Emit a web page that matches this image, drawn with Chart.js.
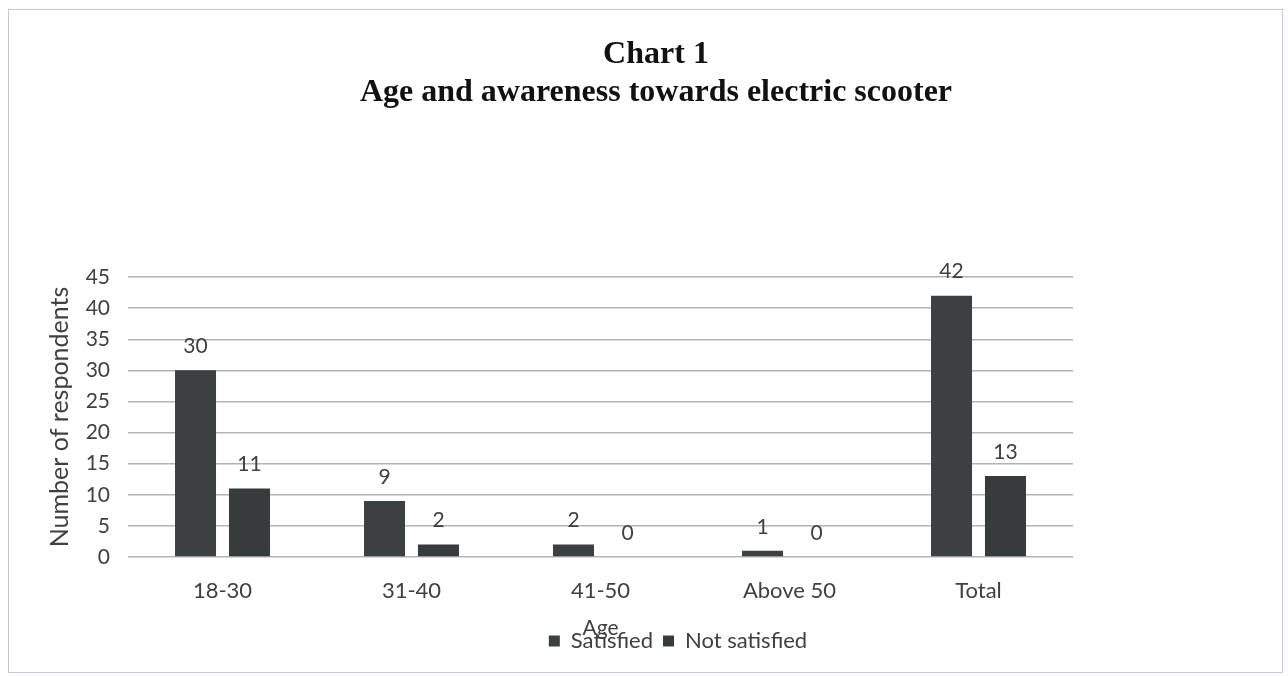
<!DOCTYPE html>
<html>
<head>
<meta charset="utf-8">
<script src="https://cdn.jsdelivr.net/npm/chart.js@4"></script>
<style>
  html, body { margin: 0; padding: 0; background: #ffffff; }
  #wrap { position: relative; width: 1288px; height: 676px; }
  #frame { position: absolute; left: 8px; top: 9px; width: 1273px; height: 662px; border: 1.5px solid #c9c9d6; pointer-events: none; }
  canvas { position: absolute; left: 0; top: 0; }
</style>
</head>
<body>
<div id="wrap">
  <canvas id="c" width="1288" height="676"></canvas>
  <div id="frame"></div>
</div>
<script>
const categories = ['18-30', '31-40', '41-50', 'Above 50', 'Total'];
const satisfied = [30, 9, 2, 1, 42];
const notSatisfied = [11, 2, 0, 0, 13];
const yTicks = [0, 5, 10, 15, 20, 25, 30, 35, 40, 45];
const titleLines = ['Chart 1', 'Age and awareness towards electric scooter'];
const xTitle = 'Age';
const yTitle = 'Number of respondents';
const seriesNames = ['Satisfied', 'Not satisfied'];

const TEXT = '#404040';
const SANS = 'Lato';

const valueLabels = {
  id: 'valueLabels',
  afterDatasetsDraw(chart) {
    const ctx = chart.ctx;
    ctx.save();
    ctx.font = '21px ' + SANS;
    ctx.fillStyle = TEXT;
    ctx.textAlign = 'center';
    ctx.textBaseline = 'middle';
    chart.data.datasets.forEach((ds, di) => {
      const meta = chart.getDatasetMeta(di);
      meta.data.forEach((bar, i) => {
        ctx.fillText(String(ds.data[i]), bar.x, bar.y - 24);
      });
    });
    ctx.restore();
  }
};

const shiftLegend = {
  id: 'shiftLegend',
  afterLayout(chart) {
    if (chart.legend) {
      chart.legend.left += 22;
      chart.legend.right += 22;
    }
  }
};

new Chart(document.getElementById('c'), {
  type: 'bar',
  data: {
    labels: categories,
    datasets: [
      { label: seriesNames[0], data: satisfied, backgroundColor: '#3d4040', borderWidth: 0,
        categoryPercentage: 0.571, barPercentage: 0.76 },
      { label: seriesNames[1], data: notSatisfied, backgroundColor: '#383b3c', borderWidth: 0,
        categoryPercentage: 0.571, barPercentage: 0.76 }
    ]
  },
  options: {
    responsive: false,
    animation: false,
    layout: { padding: { left: 24, right: 0, top: 10, bottom: 14 } },
    plugins: {
      title: {
        display: true,
        text: titleLines,
        color: '#111111',
        font: { family: 'Liberation Serif', size: 32, weight: 'bold', lineHeight: 1.1875 },
        padding: { top: 25.6, bottom: 165.4 }
      },
      legend: {
        display: true,
        position: 'bottom',
        labels: {
          color: TEXT,
          font: { family: SANS, size: 22 },
          boxWidth: 11,
          boxHeight: 11,
          padding: 10
        }
      },
      tooltip: { enabled: false }
    },
    scales: {
      x: {
        grid: { display: false, drawTicks: false },
        border: { display: false },
        ticks: { color: TEXT, font: { family: SANS, size: 22 }, padding: 21 },
        title: {
          display: true, text: xTitle, color: TEXT,
          font: { family: SANS, size: 21 },
          padding: { top: 11, bottom: -20.5 }
        },
        afterFit: (s) => { s.height = 63; }
      },
      y: {
        min: 0, max: 45,
        afterBuildTicks: (s) => { s.ticks = yTicks.map(v => ({ value: v })); },
        grid: { color: '#b4b4b4', lineWidth: 1.4, drawTicks: false },
        border: { display: false },
        ticks: { color: TEXT, font: { family: SANS, size: 21 }, padding: 18 },
        title: {
          display: true, text: yTitle, color: TEXT,
          font: { family: SANS, size: 25 },
          padding: { top: 21, bottom: 13 }
        },
        afterFit: (s) => { s.width = 104; }
      },
      y2: {
        position: 'right',
        display: true,
        grid: { display: false, drawTicks: false },
        border: { display: false },
        ticks: { display: false },
        afterFit: (s) => { s.width = 215; }
      }
    }
  },
  plugins: [valueLabels, shiftLegend]
});
</script>
</body>
</html>
